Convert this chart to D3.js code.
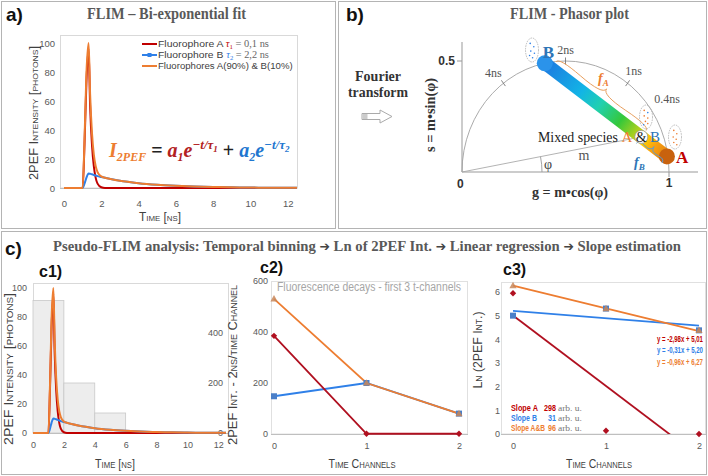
<!DOCTYPE html>
<html><head><meta charset="utf-8">
<script src="https://cdn.jsdelivr.net/npm/d3@7/dist/d3.min.js"></script>
<style>body{margin:0;background:#fff}svg{display:block}</style>
</head><body>
<svg id="chart" width="708" height="476"></svg>
<script>
// ---------------- DATA ----------------
const timeNs   = [0,1.0,1.1,1.2,1.32,1.4,1.5,1.6,1.7,1.8,2.0,2.2,2.5,3,3.5,4,5,6,7,8,9,10,11,12,12.5];
const fluoA    = [0,0,30,72,96,57,30,15,7,3,0.5,0,0,0,0,0,0,0,0,0,0,0,0,0,0];
const fluoB    = [0,0,3,7,10,9.8,9.5,9,8.6,8.2,7.6,7.0,6.2,5.0,4.1,3.3,2.2,1.5,1.0,0.7,0.5,0.3,0.2,0.1,0.1];
const fluoAB   = [0,0,33,78,100,65,38,23,15,11,8,7.1,6.2,5.0,4.1,3.3,2.2,1.5,1.0,0.7,0.5,0.3,0.2,0.1,0.1];
const timeTicks = [0,2,4,6,8,10,12];
const intensityTicks = [0,20,40,60,80,100];

const binStart = [0,2,4];
const binEnd   = [2,4,6];
const binCounts = [530,200,80];
const binTicks = [0,200,400];

const channels = [0,1,2];
const chanA  = [385,1,1];
const chanB  = [148,200,80];
const chanAB = [530,200,80];
const chanTicks = [0,200,400,600];

const lnA  = [5.95,0.14,0];
const lnB  = [5.0,5.3,4.38];
const lnAB = [6.27,5.3,4.38];
const lnTicks = [0,1,2,3,4,5,6];
const fitSlopes = [-2.98,-0.31,-0.96];
const fitIntercepts = [5.01,5.20,6.27];
const fitLabels = ["y = -2,98x + 5,01","y = -0,31x + 5,20","y = -0,96x + 6,27"];
const slopeNames = ["Slope A","Slope B","Slope A&B"];
const slopeValues = [298,31,96];

const lifetimes = [4,2,1,0.4];
const lifetimeLabels = ["4ns","2ns","1ns","0.4ns"];
const omega = 0.5;               // rad/ns
const phasorB = [0.40,0.49];
const phasorA = [0.99,0.07];
const mixFraction = 0.79;

// ---------------- STYLE ----------------
const svg = d3.select("#chart");
const serif = "'Liberation Serif','Times New Roman',serif";
const sans = "'Liberation Sans',Arial,sans-serif";
const cRed = "#c00000", cBlue = "#2f80e8", cOrange = "#ed7d31", gTxt = "#595959";
const seriesColors = [cRed, cBlue, cOrange];
const intFmt = d3.format("d");

function fitWidth(t,target){
  const n = t.node().getComputedTextLength();
  if(n>0){ t.attr("font-size", parseFloat(t.attr("font-size"))*target/n); }
  return t;
}
// horizontally condense a text (keeps glyph height) to a target width, anchored at its x
function condense(t,target){
  const n = t.node().getComputedTextLength();
  if(n>0){
    const x = +t.attr("x"), y = +t.attr("y"), sx = target/n;
    t.attr("transform",`translate(${x},${y}) scale(${sx},1) translate(${-x},${-y})`);
  }
  return t;
}
function txt(x,y,s,o={}){
  const t = svg.append("text").attr("x",x).attr("y",y).text(s)
    .attr("font-family",o.ff||sans).attr("font-size",o.fs||10)
    .attr("fill",o.fill||gTxt).attr("text-anchor",o.anchor||"start");
  if(o.fw) t.attr("font-weight",o.fw);
  if(o.fst) t.attr("font-style",o.fst);
  if(o.sc) t.attr("font-variant","small-caps");
  if(o.len) t.attr("textLength",o.len).attr("lengthAdjust","spacingAndGlyphs");
  if(o.fit) fitWidth(t,o.fit);
  if(o.cond) condense(t,o.cond);
  if(o.rot){ t.attr("x",0).attr("y",0).attr("transform",`translate(${x},${y}) rotate(-90)`); }
  return t;
}
function box(x,y,w,h,stroke,fill){
  return svg.append("rect").attr("x",x).attr("y",y).attr("width",w).attr("height",h)
    .attr("fill",fill||"none").attr("stroke",stroke).attr("stroke-width",1);
}
function axisText(g,size){
  g.select(".domain").remove();
  g.attr("font-size",null).attr("font-family",null);
  g.selectAll("text").attr("font-family",sans).attr("font-size",size||10).attr("fill",gTxt);
}

// ---------------- FRAMES ----------------
box(1.5,1.5,334,227,"#b4b4b4");
box(338.5,1.5,368,227,"#b4b4b4");
box(1.5,231.5,705,243,"#b4b4b4");

// ---------------- PANEL A ----------------
txt(6,21,"a)",{fs:19,fw:"bold",fill:"#111"});
txt(87,19,"FLIM – Bi-exponential fit",{ff:serif,fs:16,fw:"bold",len:159});
const xA = d3.scaleLinear().domain([0,12.5]).range([64,297]);
const yA = d3.scaleLinear().domain([0,100]).range([188,43]);
box(60.5,35.5,237,152.5,"#d9d9d9");
svg.append("g").attr("transform","translate(0,188)")
  .call(d3.axisBottom(xA).tickValues(timeTicks).tickFormat(intFmt).tickSize(0).tickPadding(12)).call(g=>axisText(g,9.5));
svg.append("g").attr("transform","translate(55,0)")
  .call(d3.axisLeft(yA).tickValues(intensityTicks).tickFormat(intFmt).tickSize(0).tickPadding(0)).call(g=>axisText(g,9.5));
svg.append("line").attr("x1",60).attr("x2",297).attr("y1",188.5).attr("y2",188.5).attr("stroke","#bfbfbf");
txt(160,221,"Time [ns]",{fs:12,sc:true,anchor:"middle",fill:"#404040",len:42});
txt(38,113,"2PEF Intensity [photons]",{fs:12,sc:true,anchor:"middle",fill:"#404040",len:134,rot:true});

function drawCurves(xs,ys){
  const series = [fluoA,fluoB,fluoAB];
  series.forEach((d,i)=>{
    const line = d3.line().x((v,j)=>xs(timeNs[j])).y(v=>ys(v)).curve(d3.curveMonotoneX);
    svg.append("path").attr("d",line(d)).attr("fill","none")
      .attr("stroke",seriesColors[i]).attr("stroke-width",2).attr("stroke-linejoin","round");
  });
}
drawCurves(xA,yA);

// legend
const legNames = [["Fluorophore A ","τ","1"," = 0,1 ns"],["Fluorophore B ","τ","2"," = 2,2 ns"],["Fluorophores A(90%) & B(10%)"]];
const legWidths = [111,111,135];
legNames.forEach((n,i)=>{
  const y = 44 + i*11;
  svg.append("line").attr("x1",142).attr("x2",157).attr("y1",y).attr("y2",y)
    .attr("stroke",seriesColors[i]).attr("stroke-width",2);
  if(i===1) svg.append("rect").attr("x",147.5).attr("y",y-2).attr("width",4).attr("height",4).attr("fill",cBlue);
  const t = svg.append("text").attr("x",158).attr("y",y+3.5).attr("font-family",sans).attr("font-size",9.5).attr("fill","#404040");
  t.append("tspan").text(n[0]);
  if(n.length>1){
    t.append("tspan").attr("font-family",serif).attr("font-style","italic").attr("fill",seriesColors[i]).text(n[1]);
    t.append("tspan").attr("font-family",serif).attr("font-size","0.65em").attr("dy",2).attr("fill",seriesColors[i]).text(n[2]);
    t.append("tspan").attr("font-family",serif).attr("dy",-2).attr("fill","#666").text(n[3]);
  }
  condense(t,legWidths[i]);
});
// formula
{
  const t = svg.append("text").attr("x",109).attr("y",157).attr("font-family",serif)
    .attr("font-weight","bold").attr("font-style","italic").attr("font-size",20);
  t.append("tspan").attr("fill",cOrange).text("I");
  t.append("tspan").attr("fill",cOrange).attr("font-size",12).attr("dy",4).text("2PEF");
  t.append("tspan").attr("fill","#222").attr("font-style","normal").attr("dy",-4).text(" = ");
  t.append("tspan").attr("fill","#b22222").text("a");
  t.append("tspan").attr("fill","#b22222").attr("font-size",12).attr("dy",4).text("1");
  t.append("tspan").attr("fill","#b22222").attr("dy",-4).text("e");
  t.append("tspan").attr("fill","#b22222").attr("font-size",13).attr("dy",-8).text("−t/τ");
  t.append("tspan").attr("fill","#b22222").attr("font-size",9).attr("dy",3).text("1");
  t.append("tspan").attr("fill","#222").attr("font-style","normal").attr("dy",5).text(" + ");
  t.append("tspan").attr("fill","#1f77d0").text("a");
  t.append("tspan").attr("fill","#1f77d0").attr("font-size",12).attr("dy",4).text("2");
  t.append("tspan").attr("fill","#1f77d0").attr("dy",-4).text("e");
  t.append("tspan").attr("fill","#1f77d0").attr("font-size",13).attr("dy",-8).text("−t/τ");
  t.append("tspan").attr("fill","#1f77d0").attr("font-size",9).attr("dy",3).text("2");
}

// ---------------- PANEL B ----------------
txt(346,21,"b)",{fs:19,fw:"bold",fill:"#111"});
txt(510,19,"FLIM - Phasor plot",{ff:serif,fs:16,fw:"bold",len:119});
txt(378,81,"Fourier",{ff:serif,fs:15,fw:"bold",anchor:"middle",fill:"#333",len:46});
txt(378,97,"transform",{ff:serif,fs:15,fw:"bold",anchor:"middle",fill:"#333",len:60});
svg.append("path").attr("d","M362,113.5 L380,113.5 L380,110 L392,116.5 L380,123 L380,119.5 L362,119.5 Z")
  .attr("fill","#fff").attr("stroke","#aaa").attr("stroke-width",1);
svg.append("rect").attr("x",362.5).attr("y",114).attr("width",5).attr("height",5).attr("fill","#ccc");

const gP = d3.scaleLinear().domain([0,1]).range([462,669]);
const sP = d3.scaleLinear().domain([0,0.5]).range([172,61]);
svg.append("line").attr("x1",gP(0)).attr("x2",698).attr("y1",sP(0)).attr("y2",sP(0)).attr("stroke","#999");
svg.append("line").attr("x1",gP(0)).attr("x2",gP(0)).attr("y1",sP(0)).attr("y2",42).attr("stroke","#999");
svg.append("line").attr("x1",gP(1)).attr("x2",gP(1)).attr("y1",sP(0)).attr("y2",sP(0)+5).attr("stroke","#999");
svg.append("line").attr("x1",gP(0)-5).attr("x2",gP(0)).attr("y1",sP(0.5)).attr("y2",sP(0.5)).attr("stroke","#999");
txt(gP(0)-5,sP(0)+16,"0",{fs:12,fw:"bold",fill:"#333"});
txt(gP(1),sP(0)+15,"1",{fs:12,fw:"bold",fill:"#333",anchor:"middle"});
txt(gP(0)-7,sP(0.5)+4,"0.5",{fs:12,fw:"bold",fill:"#333",anchor:"end"});
txt(570,197,"g = m•cos(φ)",{ff:serif,fs:15,fw:"bold",anchor:"middle",fill:"#333",len:76});
txt(430,115,"s = m•sin(φ)",{ff:serif,fs:15,fw:"bold",anchor:"middle",fill:"#333",len:74,rot:true}).attr("dy",5);

// universal semicircle
const rx = gP(1)-gP(0.5), ry = sP(0)-sP(0.5);
svg.append("path").attr("d",`M${gP(0)},${sP(0)} A${rx},${ry} 0 0 1 ${gP(1)},${sP(0)}`)
  .attr("fill","none").attr("stroke","#a0a0a0").attr("stroke-width",0.9);
const labOff = [[-10,-6],[0,-7],[6,-8],[6,-26]];
lifetimes.forEach((tau,i)=>{
  const wt = omega*tau, g = 1/(1+wt*wt), s = wt/(1+wt*wt);
  const px = gP(g), py = sP(s), cx = gP(0.5), cy = sP(0);
  const L = Math.hypot(px-cx,py-cy), ux=(px-cx)/L, uy=(py-cy)/L;
  if(i<3) svg.append("line").attr("x1",px-3.5*ux).attr("y1",py-3.5*uy).attr("x2",px+3.5*ux).attr("y2",py+3.5*uy)
    .attr("stroke","#777").attr("stroke-width",0.9);
  txt(px+labOff[i][0],py+labOff[i][1],lifetimeLabels[i],{ff:serif,fs:12,fill:"#555",anchor:"middle"});
});

// m line and phi
const Bx=gP(phasorB[0]), By=sP(phasorB[1]), Ax=gP(phasorA[0]), Ay=sP(phasorA[1]);
const Mx = Bx+(Ax-Bx)*mixFraction, My = By+(Ay-By)*mixFraction;
svg.append("line").attr("x1",gP(0)).attr("y1",sP(0)).attr("x2",Mx).attr("y2",My).attr("stroke","#aaa").attr("stroke-width",0.9);
const ang = Math.atan2(sP(0)-My, Mx-gP(0)), rPhi = 80;
svg.append("path").attr("d",`M${gP(0)+rPhi},${sP(0)} A${rPhi},${rPhi} 0 0 0 ${gP(0)+rPhi*Math.cos(ang)},${sP(0)-rPhi*Math.sin(ang)}`)
  .attr("fill","none").attr("stroke","#999").attr("stroke-width",0.9);
txt(548,169,"φ",{ff:serif,fs:14,fill:"#444",anchor:"middle"});
txt(584,160,"m",{ff:serif,fs:14,fill:"#555",anchor:"middle"});

// gradient bar
const defs = svg.append("defs");
const grad = defs.append("linearGradient").attr("id","barGrad").attr("gradientUnits","userSpaceOnUse")
  .attr("x1",Bx).attr("y1",By).attr("x2",Ax).attr("y2",Ay);
[[0,"#1e78e0"],[0.3,"#12b4e6"],[0.45,"#20d0b0"],[0.62,"#35c83a"],[0.74,"#a8d020"],[0.82,"#ffcc00"],[0.9,"#f8a010"],[1,"#e08010"]]
  .forEach(s=>grad.append("stop").attr("offset",s[0]).attr("stop-color",s[1]));
svg.append("line").attr("x1",Bx).attr("y1",By).attr("x2",Ax).attr("y2",Ay)
  .attr("stroke","url(#barGrad)").attr("stroke-width",13);
svg.append("circle").attr("cx",Bx).attr("cy",By).attr("r",8).attr("fill","#2b93ea");
svg.append("circle").attr("cx",Ax).attr("cy",Ay).attr("r",8).attr("fill","#c8620e");
txt(Bx-2,By-5,"B",{ff:serif,fs:17,fw:"bold",fill:"#2e75b6"});
txt(Ax+9,Ay+7,"A",{ff:serif,fs:17,fw:"bold",fill:"#c00000"});

// braces
function brace(x1,y1,x2,y2,w,q){
  let dx=x1-x2, dy=y1-y2; const len=Math.hypot(dx,dy); dx/=len; dy/=len;
  const qx1=x1+q*w*dy, qy1=y1-q*w*dx;
  const qx2=(x1-.25*len*dx)+(1-q)*w*dy, qy2=(y1-.25*len*dy)-(1-q)*w*dx;
  const tx1=(x1-.5*len*dx)+w*dy, ty1=(y1-.5*len*dy)-w*dx;
  const qx3=x2+q*w*dy, qy3=y2-q*w*dx;
  const qx4=(x1-.75*len*dx)+(1-q)*w*dy, qy4=(y1-.75*len*dy)-(1-q)*w*dx;
  return `M${x1},${y1} Q${qx1},${qy1} ${qx2},${qy2} T${tx1},${ty1} M${x2},${y2} Q${qx3},${qy3} ${qx4},${qy4} T${tx1},${ty1}`;
}
{
  const ux=(Ax-Bx), uy=(Ay-By), L=Math.hypot(ux,uy), nx=uy/L, ny=-ux/L;
  const o=8;
  svg.append("path").attr("d",brace(Mx+nx*o,My+ny*o,Bx+nx*o+ux/L*8,By+ny*o+uy/L*8,9,0.6))
    .attr("fill","none").attr("stroke","#e8a060").attr("stroke-width",1);
  svg.append("path").attr("d",brace(Mx-nx*o,My-ny*o,Ax-nx*o,Ay-ny*o,-8,0.6))
    .attr("fill","none").attr("stroke","#5b9bd5").attr("stroke-width",1);
}
{
  const t = svg.append("text").attr("x",598).attr("y",83).attr("font-family",serif).attr("font-style","italic").attr("font-weight","bold").attr("font-size",14).attr("fill",cOrange);
  t.append("tspan").text("f"); t.append("tspan").attr("font-size",9).attr("dy",3).text("A");
  const t2 = svg.append("text").attr("x",634).attr("y",167).attr("font-family",serif).attr("font-style","italic").attr("font-weight","bold").attr("font-size",14).attr("fill","#2e75b6");
  t2.append("tspan").text("f"); t2.append("tspan").attr("font-size",9).attr("dy",3).text("B");
}
// mixed label
txt(538,142,"Mixed species",{ff:serif,fs:15,fill:"#222",cond:80});
svg.append("circle").attr("cx",Mx).attr("cy",My).attr("r",6.5).attr("fill","#fff").attr("stroke","#999").attr("stroke-width",0.8);
txt(627,142,"A",{ff:serif,fs:15,fill:cOrange,anchor:"middle"});
txt(Mx,142,"&",{ff:serif,fs:14,fill:"#222",anchor:"middle"});
txt(655,142,"B",{ff:serif,fs:15,fill:"#2e75b6",anchor:"middle"});

// dotted ellipses (sample clouds)
const clouds = [
  {c:[532,50], dots:[[-0.3,-0.6,0],[0.3,-0.3,0],[-0.2,0.1,0],[0.4,0.3,0],[-0.4,0.5,0],[0.1,0.7,0]]},
  {c:[646,117], dots:[[-0.3,-0.6,1],[0.3,-0.4,0],[-0.3,-0.1,1],[0.3,0.1,1],[-0.1,0.4,1],[0.3,0.6,1],[-0.4,0.7,0]]},
  {c:[675,137], dots:[[-0.2,-0.6,1],[0.3,-0.3,1],[-0.3,0,1],[0.2,0.2,1],[-0.2,0.5,1],[0.3,0.7,1]]}
];
clouds.forEach(cl=>{
  svg.append("ellipse").attr("cx",cl.c[0]).attr("cy",cl.c[1]).attr("rx",6.5).attr("ry",12)
    .attr("fill","none").attr("stroke","#aaa").attr("stroke-width",0.8).attr("stroke-dasharray","1.5,1");
  cl.dots.forEach(d=>svg.append("circle").attr("cx",cl.c[0]+d[0]*6).attr("cy",cl.c[1]+d[1]*11).attr("r",0.8)
    .attr("fill",d[2]?cOrange:cBlue));
});

// ---------------- PANEL C ----------------
txt(5,255,"c)",{fs:19,fw:"bold",fill:"#111"});
{
  const parts = ["Pseudo-FLIM analysis:  Temporal binning ","➔"," Ln of 2PEF Int. ","➔"," Linear regression ","➔"," Slope estimation"];
  const t = svg.append("text").attr("x",53).attr("y",251).attr("font-family",serif).attr("font-size",15.5)
    .attr("font-weight","bold").attr("fill",gTxt);
  parts.forEach(p=>{
    const s = t.append("tspan").text(p);
    if(p==="➔") s.attr("font-family","'DejaVu Sans',sans-serif").attr("font-size","0.85em").attr("fill","#444");
  });
  condense(t,628);
}

// c1
txt(39,277,"c1)",{fs:16,fw:"bold",fill:"#111"});
const xC1 = d3.scaleLinear().domain([0,12.5]).range([33,226]);
const yC1 = d3.scaleLinear().domain([0,100]).range([433,288]);
const yC1r = d3.scaleLinear().domain([0,600]).range([433,283]);
box(33.5,283.5,195,150,"#d9d9d9");
binStart.forEach((b,i)=>{
  svg.append("rect").attr("x",xC1(b)).attr("y",yC1r(binCounts[i])).attr("width",xC1(binEnd[i])-xC1(b))
    .attr("height",yC1r(0)-yC1r(binCounts[i])).attr("fill","#ededed").attr("stroke","#c8c8c8").attr("stroke-width",0.8);
});
svg.append("g").attr("transform","translate(0,433)")
  .call(d3.axisBottom(xC1).tickValues(timeTicks).tickFormat(intFmt).tickSize(0).tickPadding(9)).call(g=>axisText(g,9));
svg.append("g").attr("transform","translate(27,0)")
  .call(d3.axisLeft(yC1).tickValues(intensityTicks).tickFormat(intFmt).tickSize(0).tickPadding(0)).call(g=>axisText(g,9));
svg.append("g").attr("transform","translate(223,0)")
  .call(d3.axisLeft(yC1r).tickValues(binTicks).tickFormat(intFmt).tickSize(0).tickPadding(0)).call(g=>axisText(g,9));
svg.append("line").attr("x1",33).attr("x2",228).attr("y1",433.5).attr("y2",433.5).attr("stroke","#bfbfbf");
drawCurves(xC1,yC1);
txt(115,468,"Time [ns]",{fs:12.5,sc:true,anchor:"middle",fill:"#404040",len:40});
txt(9,369,"2PEF Intensity [photons]",{fs:13,sc:true,anchor:"middle",fill:"#404040",len:152,rot:true}).attr("dy",4);
txt(233,365,"2PEF Int. - 2ns/time Channel",{fs:13,sc:true,anchor:"middle",fill:"#404040",len:160,rot:true}).attr("dy",4);

// c2
txt(260,273,"c2)",{fs:16,fw:"bold",fill:"#111"});
const xC2 = d3.scaleLinear().domain([0,2]).range([274,459]);
const yC2 = d3.scaleLinear().domain([0,600]).range([434,281]);
box(271.5,281.5,196,152.5,"#e0e0e0");
svg.append("g").attr("transform","translate(0,434)")
  .call(d3.axisBottom(xC2).tickValues(channels).tickFormat(intFmt).tickSize(0).tickPadding(9)).call(g=>axisText(g,9));
svg.append("g").attr("transform","translate(268,0)")
  .call(d3.axisLeft(yC2).tickValues(chanTicks).tickFormat(intFmt).tickSize(0).tickPadding(0)).call(g=>axisText(g,9));
svg.append("line").attr("x1",271).attr("x2",468).attr("y1",434.5).attr("y2",434.5).attr("stroke","#bfbfbf");
txt(369,291,"Fluorescence decays - first 3 t-channels",{fs:12,fill:"#a6a6a6",anchor:"middle",len:184});
function markers(xs,ys,data,color,shape,opacity){
  data.forEach((v,i)=>{
    const x=xs(channels[i]), y=ys(v);
    if(shape==="square") svg.append("rect").attr("x",x-3).attr("y",y-3).attr("width",6).attr("height",6).attr("fill",color).attr("opacity",opacity||1);
    else if(shape==="diamond") svg.append("path").attr("d",`M${x},${y-3.2}L${x+3.2},${y}L${x},${y+3.2}L${x-3.2},${y}Z`).attr("fill",color);
    else svg.append("path").attr("d",`M${x},${y-3.8}L${x+3.6},${y+2.6}L${x-3.6},${y+2.6}Z`).attr("fill",color).attr("opacity",opacity||1);
  });
}
[[chanB,cBlue],[chanA,"#b01020"],[chanAB,cOrange]].forEach(([d,c])=>{
  const line = d3.line().x((v,i)=>xC2(channels[i])).y(v=>yC2(v));
  svg.append("path").attr("d",line(d)).attr("fill","none").attr("stroke",c).attr("stroke-width",1.8);
});
markers(xC2,yC2,chanB,"#4a7fc8","square");
markers(xC2,yC2,chanA,"#b01020","diamond");
markers(xC2,yC2,chanAB,"#c8875a","tri",0.85);
txt(362,468,"Time Channels",{fs:12.5,sc:true,anchor:"middle",fill:"#404040",len:67});

// c3
txt(503,275,"c3)",{fs:16,fw:"bold",fill:"#111"});
const xC3 = d3.scaleLinear().domain([0,2]).range([513,699]);
const yC3 = d3.scaleLinear().domain([0,6]).range([434,292]);
box(501.5,282.5,204,151.5,"#e0e0e0");
svg.append("g").attr("transform","translate(0,434)")
  .call(d3.axisBottom(xC3).tickValues(channels).tickFormat(intFmt).tickSize(0).tickPadding(9)).call(g=>axisText(g,9));
svg.append("g").attr("transform","translate(500,0)")
  .call(d3.axisLeft(yC3).tickValues(lnTicks).tickFormat(intFmt).tickSize(0).tickPadding(0)).call(g=>axisText(g,9));
svg.append("line").attr("x1",501).attr("x2",706).attr("y1",434.5).attr("y2",434.5).attr("stroke","#bfbfbf");
defs.append("clipPath").attr("id","c3clip").append("rect").attr("x",501).attr("y",282).attr("width",205).attr("height",152);
fitSlopes.forEach((m,i)=>{
  svg.append("line").attr("clip-path","url(#c3clip)")
    .attr("x1",xC3(0)).attr("y1",yC3(fitIntercepts[i]))
    .attr("x2",xC3(2)).attr("y2",yC3(fitIntercepts[i]+2*m))
    .attr("stroke",i===0?"#b01020":seriesColors[i]).attr("stroke-width",1.8);
});
markers(xC3,yC3,lnA,"#b01020","diamond");
markers(xC3,yC3,lnB,"#4a7fc8","square");
markers(xC3,yC3,lnAB,"#c8875a","tri",0.85);
const fitColors = ["#c00000","#2f80e8","#ed7d31"];
fitLabels.forEach((s,i)=>txt(657,342+i*11.5,s,{fs:9,fw:"bold",fill:fitColors[i],cond:46}));
const slopeLens = [27,26,34];
slopeNames.forEach((s,i)=>{
  const y = 411+i*10;
  txt(511,y,s,{fs:9,fw:"bold",fill:fitColors[i],cond:slopeLens[i]});
  const v = String(slopeValues[i]);
  txt(556-v.length*4,y,v,{fs:9,fw:"bold",fill:fitColors[i],cond:v.length*4});
  txt(558,y,"arb. u.",{ff:serif,fs:9,fill:"#777",cond:24});
});
txt(599,468,"Time Channels",{fs:12.5,sc:true,anchor:"middle",fill:"#404040",len:66});
txt(478,350,"Ln (2PEF Int.)",{fs:13,sc:true,anchor:"middle",fill:"#404040",len:77,rot:true}).attr("dy",4);
</script>
</body></html>
